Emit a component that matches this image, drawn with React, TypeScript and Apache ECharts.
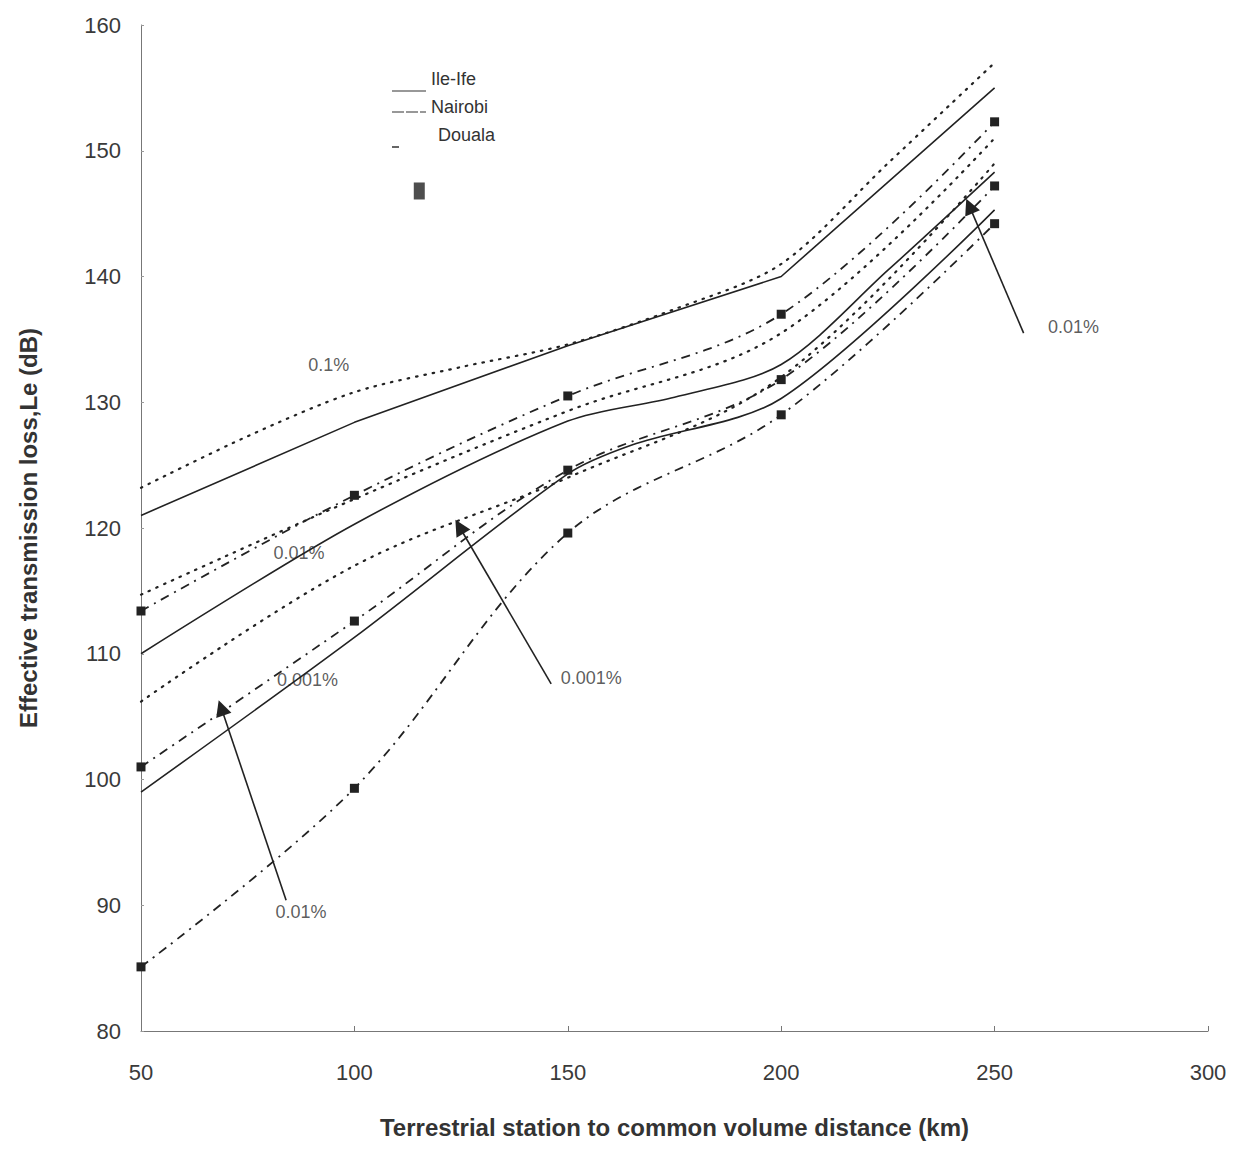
import React, { useEffect, useRef } from "react";
import * as echarts from "echarts";

// ---- data ----
const xTicks = [50, 100, 150, 200, 250, 300];
const yTicks = [80, 90, 100, 110, 120, 130, 140, 150, 160];
const stations = [50, 100, 150, 200, 250];

// 0.1 % group
const ileIfe01: number[][] = [[50, 121], [100, 128.4], [150, 134.5], [200, 140], [250, 155]];
const douala01: number[][] = [[50, 123.2], [75, 127.3], [100, 130.8], [125, 132.8], [150, 134.6], [175, 137.4], [200, 141], [225, 149], [250, 157]];
// 0.01 % group
const nairobi001 = [113.4, 122.6, 130.5, 137, 152.3];
const douala001 = [114.7, 122.3, 129.3, 135.5, 151];
const ileIfe001: number[][] = [[50, 110], [100, 120.3], [150, 128.5], [175, 130.4], [200, 133], [225, 140.5], [250, 148.3]];
// 0.001 % group
const douala0001 = [106.2, 117, 124, 132, 149];
const nairobi0001 = [101, 112.6, 124.6, 131.8, 147.2];
const ileIfe0001: number[][] = [[50, 99], [100, 111.3], [150, 124.3], [165, 126.6], [200, 130.3], [250, 145.3]];
// lowest dash-dot curve
const nairobiLow = [85.1, 99.3, 119.6, 129, 144.2];

const annotations = [
  { name: "0.1%", value: [94, 133] },
  { name: "0.01%", value: [87, 118] },
  { name: "0.001%", value: [89, 107.9] },
  { name: "0.001%", value: [155.5, 108.1] },
  { name: "0.01%", value: [87.5, 89.5] },
  { name: "0.01%", value: [268.5, 136] },
];
const arrows = [
  [[146.1, 107.6], [124.6, 120.1]],
  [[84, 90.4], [68.8, 105.7]],
  [[256.8, 135.5], [244.1, 145.6]],
];
const strayMark = [[115.2, 146.8]];

const INK = "#222";

function pair(xs: number[], ys: number[]) {
  return xs.map((x, i) => [x, ys[i]]);
}

export default function App() {
  const ref = useRef<HTMLDivElement>(null);
  useEffect(() => {
    if (!ref.current) return;
    const chart = echarts.init(ref.current, null, { renderer: "svg" });
    const solid = (name: string, data: number[][], smooth: number | boolean) => ({
      name, type: "line", data, smooth, symbol: "none",
      lineStyle: { color: INK, width: 1.6, type: "solid" },
    });
    const dotted = (name: string, data: number[][], smooth: number | boolean) => ({
      name, type: "line", data, smooth, symbol: "none",
      lineStyle: { color: INK, width: 2.2, type: [1.5, 7], cap: "round" },
    });
    const dashdot = (name: string, data: number[][]) => ({
      name, type: "line", data, smooth: 0.35, symbol: "rect", symbolSize: 9, showAllSymbol: true,
      itemStyle: { color: INK },
      lineStyle: { color: INK, width: 1.8, type: [9, 6, 2, 6] },
    });
    chart.setOption({
      animation: false,
      backgroundColor: "#fff",
      grid: { left: 127, right: 31, top: 17, bottom: 81, containLabel: false },
      xAxis: {
        type: "value", min: 50, max: 300, interval: 50,
        name: "Terrestrial station to common volume distance (km)",
        nameLocation: "middle", nameGap: 84,
        nameTextStyle: { fontFamily: "Liberation Sans", fontSize: 24, fontWeight: "bold", color: "#333" },
        axisLine: { show: true, lineStyle: { color: "#777", width: 1 } },
        axisTick: { show: true, inside: true, length: 5, lineStyle: { color: "#777" } },
        axisLabel: { fontFamily: "Liberation Sans", fontSize: 22, color: "#3a3a3a", margin: 30,
          formatter: (v: number) => (xTicks.includes(v) ? String(v) : "") },
        splitLine: { show: false },
      },
      yAxis: {
        type: "value", min: 80, max: 160, interval: 10,
        name: "Effective transmission loss,Le (dB)",
        nameLocation: "middle", nameGap: 101,
        nameTextStyle: { fontFamily: "Liberation Sans", fontSize: 24, fontWeight: "bold", color: "#333" },
        axisLine: { show: true, lineStyle: { color: "#777", width: 1 } },
        axisTick: { show: true, inside: true, length: 3, lineStyle: { color: "#999" } },
        axisLabel: { fontFamily: "Liberation Sans", fontSize: 22, color: "#3a3a3a", margin: 20,
          formatter: (v: number) => (yTicks.includes(v) ? String(v) : "") },
        splitLine: { show: false },
      },
      series: [
        solid("Ile-Ife 0.1%", ileIfe01, false),
        dotted("Douala 0.1%", douala01, 0.3),
        dashdot("Nairobi 0.01%", pair(stations, nairobi001)),
        dotted("Douala 0.01%", pair(stations, douala001), 0.35),
        solid("Ile-Ife 0.01%", ileIfe001, 0.3),
        dotted("Douala 0.001%", pair(stations, douala0001), 0.35),
        dashdot("Nairobi 0.001%", pair(stations, nairobi0001)),
        solid("Ile-Ife 0.001%", ileIfe0001, 0.3),
        dashdot("Nairobi (lowest)", pair(stations, nairobiLow)),
        {
          name: "arrows", type: "lines", coordinateSystem: "cartesian2d",
          symbol: ["none", "triangle"], symbolSize: [0, 16],
          lineStyle: { color: INK, width: 1.6, opacity: 1, curveness: 0 },
          data: arrows.map((c) => ({ coords: c })),
        },
        {
          name: "labels", type: "scatter", symbolSize: 0,
          data: annotations,
          label: { show: true, position: "inside", formatter: "{b}", fontFamily: "Liberation Sans", fontSize: 18, color: "#333" },
        },
        {
          name: "mark", type: "scatter", symbol: "rect", symbolSize: [11, 17],
          itemStyle: { color: INK }, data: strayMark,
        },
      ],
      graphic: [
        { type: "line", shape: { x1: 384, y1: 83, x2: 418, y2: 83 }, style: { stroke: "#333", lineWidth: 1.2 } },
        { type: "text", x: 423, y: 62, style: { text: "Ile-Ife", font: "18px 'Liberation Sans'", fill: "#333" } },
        { type: "line", shape: { x1: 384, y1: 104, x2: 418, y2: 104 }, style: { stroke: "#333", lineWidth: 1.2, lineDash: [12, 2] } },
        { type: "text", x: 423, y: 90, style: { text: "Nairobi", font: "18px 'Liberation Sans'", fill: "#333" } },
        { type: "line", shape: { x1: 384, y1: 139, x2: 391, y2: 139 }, style: { stroke: "#333", lineWidth: 1.5 } },
        { type: "text", x: 430, y: 118, style: { text: "Douala", font: "18px 'Liberation Sans'", fill: "#333" } },
      ],
    });
    return () => chart.dispose();
  }, []);
  return <div ref={ref} style={{ width: 1231, height: 1136 }} />;
}
